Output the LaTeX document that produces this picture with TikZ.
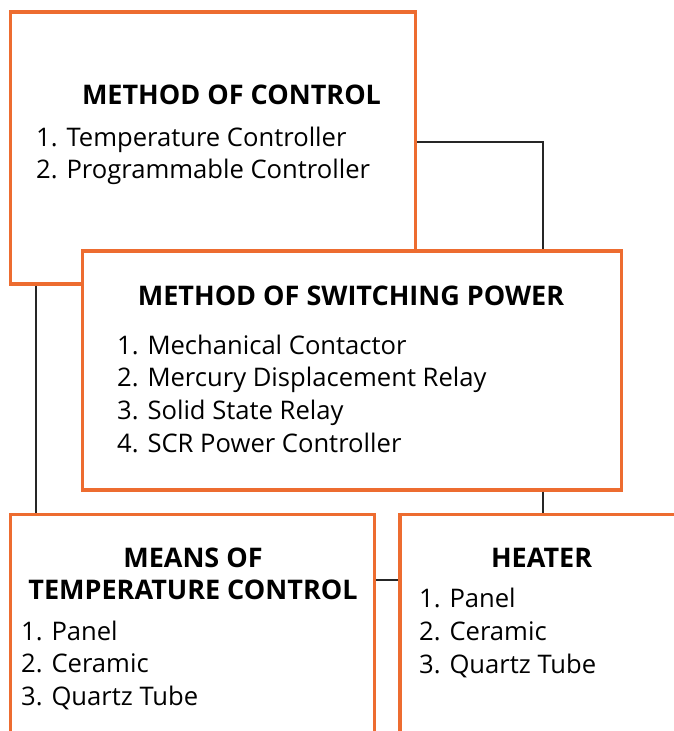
\documentclass[tikz,border=0pt]{standalone}
\usepackage{fontspec}
\setmainfont{Open Sans}
\usetikzlibrary{calc}

\tikzset{
  box/.style={draw=boxorange, line width=3.6pt, fill=white, anchor=north west, inner sep=0pt},
  title/.style={anchor=base, inner sep=0pt, font=\fontsize{27}{32}\selectfont\bfseries},
  item/.style={anchor=base west, inner sep=0pt, font=\fontsize{25.6}{32}\selectfont},
  link/.style={line width=1.8pt, black!85}
}
\definecolor{boxorange}{RGB}{237,108,48}

\begin{document}
\begin{tikzpicture}[x=1pt,y=-1pt]
% Page frame
\useasboundingbox (0,0) rectangle (674,731);
\clip (0,0) rectangle (674,731);
% The four boxes, the lower two run off the page
\node[box, minimum width=405, minimum height=272] (ctrl) at (8.6,10) {};
\node[box, minimum width=539, minimum height=239] (switch) at (80.7,249) {};
\node[box, minimum width=364, minimum height=260] (means) at (8.6,512.7) {};
\node[box, minimum width=287, minimum height=260] (heater) at (398,512.7) {};
% Connectors
\draw[link] ([yshift=-132]ctrl.north east) -| (heater.north |- switch.north);
\draw[link] (switch.south -| heater.north) -- (heater.north);
\draw[link] ([xshift=27]ctrl.south west) -- ([xshift=27]means.north west);
\draw[link] ([yshift=-67]means.north east) -- ([yshift=-67]heater.north west);
% Titles
\node[title] (ctrl-t) at (231.5,104) {METHOD OF CONTROL};
\node[title] (switch-t) at (351,305) {METHOD OF SWITCHING POWER};
\node[title] (means-t1) at (193,567) {MEANS OF};
\node[title] (means-t2) at (193,599) {TEMPERATURE CONTROL};
\node[title] (heater-t) at (541.6,567) {HEATER};
% Lists
\foreach \t [count=\i] in {Temperature Controller, Programmable Controller}
  \node[item] (ctrl-\i) at (36,146+32*\i-32) {\i. \t};
\foreach \t [count=\i] in {Mechanical Contactor, Mercury Displacement Relay,
    Solid State Relay, SCR Power Controller}
  \node[item] (switch-\i) at (117,354+32.7*\i-32.7) {\i. \t};
\foreach \t [count=\i] in {Panel, Ceramic, Quartz Tube}
  \node[item] (means-\i) at (21,640+32.7*\i-32.7) {\i. \t};
\foreach \t [count=\i] in {Panel, Ceramic, Quartz Tube}
  \node[item] (heater-\i) at (419,607.7+32.7*\i-32.7) {\i. \t};
\end{tikzpicture}
\end{document}
